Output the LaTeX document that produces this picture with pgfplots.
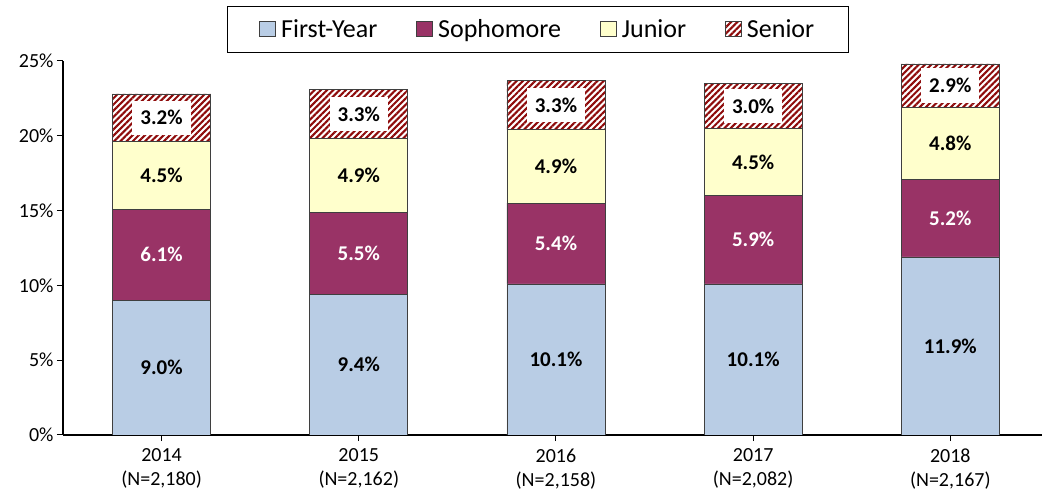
\documentclass[border=0pt]{standalone}
\usepackage{pgfplots}
\pgfplotsset{compat=1.18}
\usepackage{pgfplotstable}
\usepackage{fontspec}
\setmainfont{Carlito}
\usetikzlibrary{patterns.meta}
\definecolor{fy}{HTML}{B9CDE5}
\definecolor{so}{HTML}{993366}
\definecolor{ju}{HTML}{FFFFCC}
\definecolor{se}{HTML}{8E0B0B}
\definecolor{edge}{HTML}{3F3F3F}
\pgfplotstableread{
x fy so ju se
0 9.0 6.1 4.5 3.2
1 9.4 5.5 4.9 3.3
2 10.1 5.4 4.9 3.3
3 10.1 5.9 4.5 3.0
4 11.9 5.2 4.8 2.9
}\data
\begin{document}
\begin{tikzpicture}
\begin{axis}[
  scale only axis, width=979pt, height=374pt,
  ybar stacked, bar width=98pt,
  xmin=-0.5, xmax=4.465, ymin=0, ymax=25,
  axis lines=left, axis line style={line width=1.4pt,-},
  xtick={0,...,4},
  xticklabels={{2014\\(N=2,180)},{2015\\(N=2,162)},{2016\\(N=2,158)},{2017\\(N=2,082)},{2018\\(N=2,167)}},
  xticklabel style={align=center, yshift=-4pt, font=\fontsize{20}{24}\selectfont},
  ytick={0,5,...,25},
  yticklabel={\pgfmathprintnumber{\tick}\%},
  yticklabel style={font=\fontsize{20}{24}\selectfont},
  /pgf/number format/assume math mode=true,
  tick align=outside, major tick length=6pt,
  tick style={black, line width=1pt},
  minor tick num=0,
  legend style={at={(0.485,1)}, yshift=8pt, anchor=south, legend columns=4,
    draw=black, line width=1pt, inner xsep=32pt, inner ysep=11pt,
    font=\fontsize{26}{30}\selectfont,
    /tikz/every even column/.append style={column sep=37pt}},
  legend image code/.code={\draw[#1, line width=0.8pt] (0pt,-7pt) rectangle (16pt,8pt); \path (19pt,0pt);},
  point meta=explicit symbolic,
  nodes near coords={\pgfplotspointmeta\%},
  every node near coord/.append style={anchor=center, font=\bfseries\fontsize{21}{24}\selectfont},
]
\addplot[fill=fy, draw=edge, line width=0.8pt,
  every node near coord/.append style={anchor=center, text=black}]
  table[x=x,y=fy,meta=fy]{\data};
\addlegendentry{First-Year}
\addplot[fill=so, draw=edge, line width=0.8pt,
  every node near coord/.append style={anchor=center, text=white}]
  table[x=x,y=so,meta=so]{\data};
\addlegendentry{Sophomore}
\addplot[fill=ju, draw=edge, line width=0.8pt,
  every node near coord/.append style={anchor=center, text=black}]
  table[x=x,y=ju,meta=ju]{\data};
\addlegendentry{Junior}
\addplot[pattern={Lines[angle=45,distance=4.4pt,line width=2.1pt]}, pattern color=se, draw=edge, line width=0.8pt,
  every node near coord/.append style={anchor=center, text=black, fill=white, inner xsep=8pt, inner ysep=10pt}]
  table[x=x,y=se,meta=se]{\data};
\addlegendentry{Senior}
\end{axis}
\pgfresetboundingbox
\path ([shift={(-63pt,-63pt)}]current axis.south west) rectangle ([shift={(0pt,61pt)}]current axis.north east);
\end{tikzpicture}
\end{document}
